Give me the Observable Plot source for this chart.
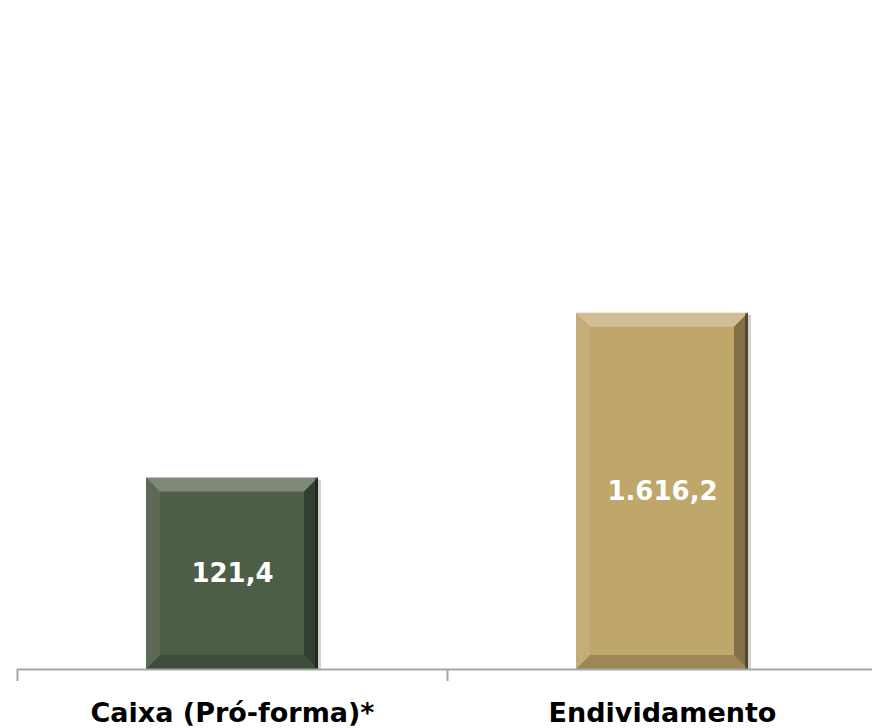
<!DOCTYPE html>
<html>
<head>
<meta charset="utf-8">
<script src="https://cdn.jsdelivr.net/npm/d3@7"></script>
<script src="https://cdn.jsdelivr.net/npm/@observablehq/plot@0.6"></script>
<style>
  html, body { margin: 0; padding: 0; background: #ffffff; overflow: hidden; }
  #chart svg { display: block; }
</style>
</head>
<body>
<div id="chart"></div>
<script>
// Data
const categories = ["Caixa (Pró-forma)*", "Endividamento"];
const values = [121.4, 1616.2];
const barColors = ["#4c5e47", "#bfa66b"];

const data = categories.map((c, i) => ({category: c, value: values[i], color: barColors[i]}));

const yBase = 6;
const yTop = 220000;
const ptBR = d3.formatLocale({decimal: ",", thousands: ".", grouping: [3], currency: ["R$", ""]});
const fmt = ptBR.format(",.1f");

const chart = Plot.plot({
  width: 872,
  height: 728,
  marginTop: 0,
  marginBottom: 59,
  marginLeft: 17,
  marginRight: 0,
  style: {fontFamily: "'DejaVu Sans', sans-serif", background: "#ffffff", overflow: "visible"},
  x: {domain: categories, range: [17, 877], paddingInner: 0.6, paddingOuter: 0.3, axis: null, label: null},
  y: {type: "log", domain: [yBase, yTop], axis: null},
  marks: [
    Plot.rectY(data, {x: "category", y1: yBase, y2: "value", fill: "color", className: "bars"}),
    Plot.ruleY([yBase], {stroke: "#a6a6a6", strokeWidth: 2}),
    Plot.axisX({anchor: "bottom", label: null, tickSize: 12, tickFormat: () => "", dx: -215, stroke: "#a6a6a6", strokeWidth: 2}),
    Plot.axisX({anchor: "bottom", label: null, tickSize: 0, tickPadding: 33, fontSize: 27, fontWeight: "bold", fill: "#000"}),
    Plot.text(data, {x: "category", y: d => Math.sqrt(yBase * d.value), text: d => fmt(d.value), fill: "white", fontSize: 26, fontWeight: "bold"})
  ]
});

document.getElementById("chart").appendChild(chart);

// Bevel decoration derived from the rendered bars
const svg = d3.select(chart);
svg.selectAll("g.bars rect").each(function() {
  const r = d3.select(this);
  const x = +r.attr("x"), y = +r.attr("y"), w = +r.attr("width"), h = +r.attr("height");
  const b = 14;
  const g = d3.select(this.parentNode).append("g");
  d3.select(this.parentNode).insert("rect", ":first-child")
    .attr("x", x + 3).attr("y", y + 2).attr("width", w).attr("height", h - 2)
    .attr("fill", "#000").attr("opacity", 0.18);
  const poly = (pts, fill, op) => g.append("polygon").attr("points", pts.map(p => p.join(",")).join(" ")).attr("fill", fill).attr("opacity", op);
  poly([[x, y], [x + w, y], [x + w - b, y + b], [x + b, y + b]], "#fff", 0.28);
  poly([[x, y], [x + b, y + b], [x + b, y + h - b], [x, y + h]], "#fff", 0.08);
  poly([[x + w, y], [x + w, y + h], [x + w - b, y + h - b], [x + w - b, y + b]], "#000", 0.32);
  poly([[x, y + h], [x + w, y + h], [x + w - b, y + h - b], [x + b, y + h - b]], "#000", 0.18);
  g.append("rect").attr("x", x + w - 3).attr("y", y).attr("width", 3).attr("height", h).attr("fill", "#000").attr("opacity", 0.35);
});
</script>
</body>
</html>
